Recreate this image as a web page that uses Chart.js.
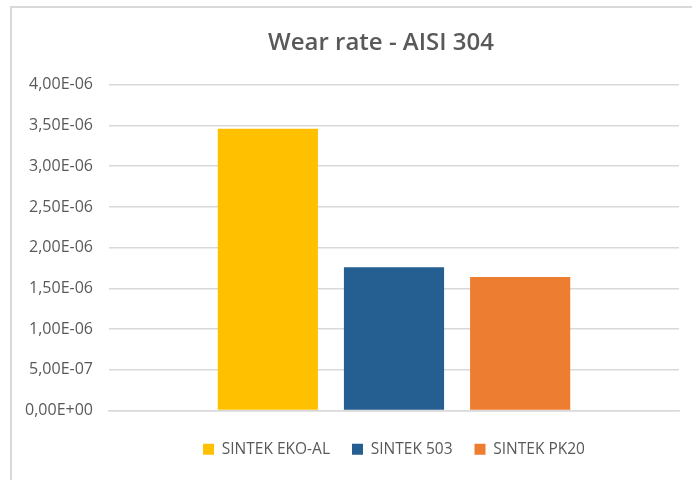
<!DOCTYPE html>
<html>
<head>
<meta charset="utf-8">
<script src="https://cdn.jsdelivr.net/npm/chart.js@4"></script>
<style>
  body { margin: 0; background: #fff; overflow: hidden; }
  #frame {
    position: absolute; left: 10px; top: 6px;
    width: 682px; height: 474px; overflow: hidden;
    border-top: 2px solid #d9d9d9; border-left: 2px solid #d9d9d9;
  }
  #wearChart { display: block; }
</style>
</head>
<body>
<div id="frame"><canvas id="wearChart" width="738" height="472"></canvas></div>
<script>
// values
const categories = [''];
const seriesNames = ['SINTEK EKO-AL', 'SINTEK 503', 'SINTEK PK20'];
const seriesValues = [3.46e-6, 1.76e-6, 1.64e-6];
const seriesColors = ['#FFC000', '#255E91', '#ED7D31'];
const yMax = 4e-6;
const yStep = 5e-7;

// Excel style: 4,00E-06
const fmtTick = (v) => {
  const parts = Number(v).toExponential(2).split('e');
  const exp = parseInt(parts[1], 10);
  const sign = exp < 0 ? '-' : '+';
  return parts[0].replace('.', ',') + 'E' + sign + String(Math.abs(exp)).padStart(2, '0');
};

const font = "'Open Sans', sans-serif";
const textColor = '#595959';
const gridColor = '#d9d9d9';

new Chart(document.getElementById('wearChart'), {
  type: 'bar',
  data: {
    labels: categories,
    datasets: seriesNames.map((name, i) => ({
      label: name,
      data: [seriesValues[i]],
      backgroundColor: seriesColors[i],
      borderWidth: 0,
      categoryPercentage: 0.664,
      barPercentage: 0.794
    }))
  },
  options: {
    responsive: false,
    animation: false,
    layout: { padding: { top: 20, right: 0, bottom: 13, left: 0 } },
    plugins: {
      title: {
        display: true,
        text: 'Wear rate - AISI 304',
        color: textColor,
        font: { family: font, size: 24, weight: '600' },
        padding: { top: 1, bottom: 27 }
      },
      legend: {
        position: 'bottom',
        fullSize: false,
        labels: {
          color: textColor,
          font: { family: font, size: 15.5 },
          boxWidth: 11,
          boxHeight: 11,
          padding: 22
        }
      },
      tooltip: { enabled: false }
    },
    scales: {
      x: {
        grid: { display: false },
        border: { display: true, color: gridColor, width: 1.5 },
        ticks: { display: false },
        afterFit: (scale) => { scale.height += 1; }
      },
      y: {
        min: 0,
        max: yMax,
        afterFit: (scale) => { scale.width = 97; },
        grid: { color: gridColor, lineWidth: 1.5, drawTicks: false },
        border: { display: false },
        ticks: {
          stepSize: yStep,
          padding: 16,
          color: textColor,
          font: { family: font, size: 16 },
          callback: fmtTick
        }
      },
      // empty right-hand space so the plot sits where the reference has it
      pad: {
        type: 'linear',
        position: 'right',
        grid: { display: false },
        border: { display: false },
        ticks: { display: false },
        afterFit: (scale) => { scale.width = 71; }
      }
    }
  }
});
</script>
</body>
</html>
